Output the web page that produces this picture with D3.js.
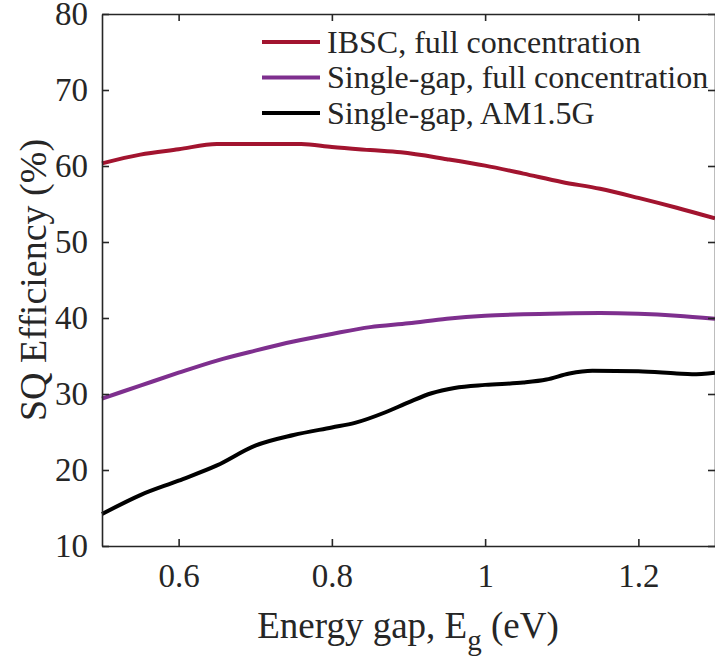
<!DOCTYPE html>
<html>
<head>
<meta charset="utf-8">
<script src="https://cdn.jsdelivr.net/npm/d3@7.9.0/dist/d3.min.js"></script>
<style>
  body { margin: 0; background: #fff; }
  text { font-family: "Liberation Serif", "Times New Roman", serif; fill: #262626; }
</style>
</head>
<body>
<svg id="chart" width="715" height="664"></svg>
<script>
// values
const ibscX = [0.50, 0.55, 0.60, 0.65, 0.70, 0.76, 0.80, 0.85, 0.89, 0.95, 1.00, 1.05, 1.10, 1.15, 1.20, 1.25, 1.30];
const ibscY = [60.35, 61.5, 62.2, 62.9, 62.9, 62.9, 62.5, 62.1, 61.8, 60.9, 60.05, 59.0, 57.9, 57.0, 55.8, 54.5, 53.1];

const sgFullX = [0.50, 0.55, 0.60, 0.65, 0.70, 0.75, 0.80, 0.85, 0.90, 0.95, 1.00, 1.05, 1.10, 1.15, 1.20, 1.25, 1.30];
const sgFullY = [29.4, 31.1, 32.8, 34.4, 35.7, 36.9, 37.9, 38.8, 39.3, 39.9, 40.3, 40.5, 40.6, 40.65, 40.55, 40.3, 39.9];

const sgAmX = [0.50, 0.55, 0.60, 0.65, 0.70, 0.75, 0.80, 0.83, 0.87, 0.90, 0.93, 0.96, 1.00, 1.05, 1.08, 1.11, 1.14, 1.20, 1.25, 1.27, 1.30];
const sgAmY = [14.2, 16.7, 18.6, 20.6, 23.2, 24.6, 25.6, 26.2, 27.6, 28.9, 30.1, 30.8, 31.2, 31.5, 31.9, 32.7, 33.05, 33.0, 32.7, 32.6, 32.8];

const seriesNames = ["IBSC, full concentration", "Single-gap, full concentration", "Single-gap, AM1.5G"];
const seriesColors = ["#A2142F", "#7E2F8E", "#000000"];

const xTicks = [0.6, 0.8, 1.0, 1.2];
const yTicks = [10, 20, 30, 40, 50, 60, 70, 80];

const svg = d3.select("#chart");
const mLeft = 102, mRight = 715, mTop = 14, mBottom = 546;

const x = d3.scaleLinear().domain([0.5, 1.3]).range([mLeft, mRight]);
const y = d3.scaleLinear().domain([10, 80]).range([mBottom, mTop]);

const series = [
  { name: seriesNames[0], color: seriesColors[0], pts: ibscX.map((v, i) => [v, ibscY[i]]) },
  { name: seriesNames[1], color: seriesColors[1], pts: sgFullX.map((v, i) => [v, sgFullY[i]]) },
  { name: seriesNames[2], color: seriesColors[2], pts: sgAmX.map((v, i) => [v, sgAmY[i]]) },
];

const line = d3.line()
  .x(d => x(d[0]))
  .y(d => y(d[1]))
  .curve(d3.curveMonotoneX);

svg.selectAll("path.series")
  .data(series)
  .enter()
  .append("path")
  .attr("class", "series")
  .attr("d", d => line(d.pts))
  .attr("fill", "none")
  .attr("stroke", d => d.color)
  .attr("stroke-width", 4)
  .attr("stroke-linejoin", "round");

// axes (ticks inward, box style)
const fmt = d => (d === 1 ? "1" : d3.format(".1f")(d));
const axisStyle = g => {
  g.select(".domain").attr("stroke", "#262626").attr("stroke-width", 1.6);
  g.selectAll(".tick line").attr("stroke", "#262626").attr("stroke-width", 1.6);
  g.selectAll(".tick text")
    .style("font-family", '"Liberation Serif", serif')
    .attr("font-size", 33)
    .attr("fill", "#262626");
};

svg.append("g")
  .attr("transform", `translate(0,${mBottom})`)
  .call(d3.axisBottom(x).tickValues(xTicks).tickFormat(fmt).tickSizeInner(-7).tickSizeOuter(0).tickPadding(18))
  .call(axisStyle);

svg.append("g")
  .attr("transform", `translate(0,${mTop})`)
  .call(d3.axisTop(x).tickValues(xTicks).tickFormat("").tickSizeInner(-7).tickSizeOuter(0))
  .call(axisStyle);

svg.append("g")
  .attr("transform", `translate(${mLeft},0)`)
  .call(d3.axisLeft(y).tickValues(yTicks).tickSizeInner(-7).tickSizeOuter(0).tickPadding(14))
  .call(axisStyle);

svg.append("g")
  .attr("transform", `translate(${mRight},0)`)
  .call(d3.axisRight(y).tickValues(yTicks).tickFormat("").tickSizeInner(-7).tickSizeOuter(0))
  .call(axisStyle);

// axis labels
const xl = svg.append("text")
  .attr("x", 408)
  .attr("y", 638)
  .attr("text-anchor", "middle")
  .attr("font-size", 37);
xl.append("tspan").text("Energy gap, E");
xl.append("tspan").attr("dy", 12).attr("font-size", 29).text("g");
xl.append("tspan").attr("dy", -12).text(" (eV)");

svg.append("text")
  .attr("transform", "translate(46,280) rotate(-90)")
  .attr("text-anchor", "middle")
  .attr("font-size", 38)
  .text("SQ Efficiency (%)");

// legend
const legend = svg.append("g");
const rows = legend.selectAll("g")
  .data(series)
  .enter()
  .append("g")
  .attr("transform", (d, i) => `translate(0,${42 + i * 35.5})`);

rows.append("line")
  .attr("x1", 262).attr("x2", 320)
  .attr("stroke", d => d.color)
  .attr("stroke-width", 4);

rows.append("text")
  .attr("x", 327)
  .attr("dy", "0.33em")
  .attr("font-size", 32)
  .text(d => d.name);
</script>
</body>
</html>
